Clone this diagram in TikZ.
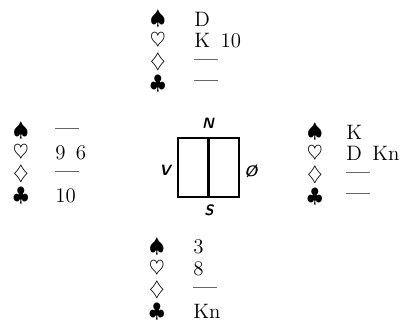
\documentclass[tikz,border=0pt]{standalone}
\usepackage{amsmath}
\usepackage{amssymb}
\usepackage{tikz}
\tikzset{
  suit/.style={inner sep=0pt, font=\large},
  cards/.style={anchor=west, inner sep=0pt, font=\fontsize{12.5}{14}\selectfont},
  compass/.style={inner sep=0pt, font=\sffamily\bfseries\slshape\small}
}
\newcommand{\renons}{\textcolor{black!60}{\rule[0.6ex]{14pt}{0.4pt}}}
% #1 name, #2 suit x, #3 text x, #4 top row y, #5-#8 spades, hearts, diamonds, clubs
\newcommand{\hand}[8]{
\node[suit] (#1s) at (#2,#4) {$\spadesuit$};
\node[suit] (#1h) at (#2,#4+21.5) {$\heartsuit$};
\node[suit] (#1d) at (#2,#4+43) {$\diamondsuit$};
\node[suit] (#1c) at (#2,#4+64.5) {$\clubsuit$};
\node[cards] (#1sv) at (#3,#4) {#5};
\node[cards] (#1hv) at (#3,#4+21.5) {#6};
\node[cards] (#1dv) at (#3,#4+43) {#7};
\node[cards] (#1cv) at (#3,#4+64.5) {#8};
}

\begin{document}
\begin{tikzpicture}[x=0.6pt, y=-0.6pt]
    \useasboundingbox (0,0) rectangle (414,321);
    % the four hands
    \hand{nord}{158}{194}{19}{D}{K\enspace 10}{\renons}{\renons}
    \hand{vest}{21}{55}{131}{\renons}{9\enspace 6}{\renons}{10}
    \hand{ost}{315}{346}{132}{K}{D\enspace Kn}{\renons}{\renons}
    \hand{syd}{157}{193}{247}{3}{8}{\renons}{Kn}
    % the table
    \node[draw, line width=0.8pt, minimum width=36.6pt, minimum height=35.4pt,
          inner sep=0pt] (bord) at (208.5,167.5) {};
    \draw[line width=1.8pt] (bord.north) -- (bord.south);
    \node[compass] (N) at (208,123) {N};
    \node[compass] (V) at (165,170) {V};
    \node[compass] (O) at (251,171) {\O};
    \node[compass] (S) at (209,210) {S};
\end{tikzpicture}
\end{document}
